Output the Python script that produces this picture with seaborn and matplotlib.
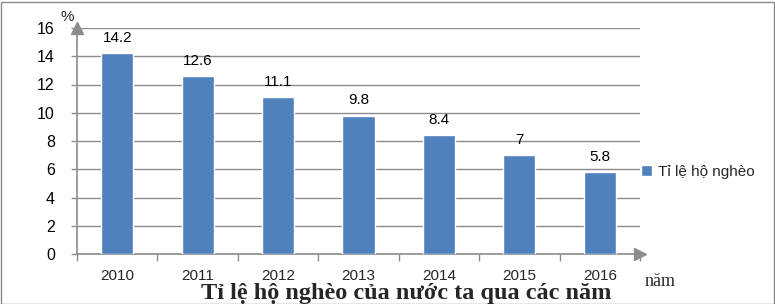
import matplotlib
matplotlib.use("Agg")
import matplotlib.pyplot as plt
import seaborn as sns
import pandas as pd
from matplotlib.patches import Rectangle
from matplotlib import font_manager

years = ["2010", "2011", "2012", "2013", "2014", "2015", "2016"]
values = [14.2, 12.6, 11.1, 9.8, 8.4, 7, 5.8]
value_labels = ["14.2", "12.6", "11.1", "9.8", "8.4", "7", "5.8"]
y_ticks = [0, 2, 4, 6, 8, 10, 12, 14, 16]
series_name = "Tỉ lệ hộ nghèo"
title = "Tỉ lệ hộ nghèo của nước ta qua các năm"

sns.set_theme(style="white")
plt.rcParams['font.family'] = ['Liberation Sans', 'DejaVu Sans']

names = {f.name for f in font_manager.fontManager.ttflist}
narrow = ['Liberation Sans Narrow'] if 'Liberation Sans Narrow' in names else ['Liberation Sans']

df = pd.DataFrame({"year": years, "value": values})

W, H = 775, 304
fig = plt.figure(figsize=(W / 100, H / 100), dpi=100)
ax = fig.add_axes([77 / W, 1 - 254 / H, (640 - 77) / W, (254 - 28) / H])

bar_color = "#4F81BD"
grid_color = "#8C8C8C"

sns.barplot(data=df, x="year", y="value", color=bar_color, width=0.4,
            saturation=1, ax=ax, label=series_name, zorder=3)
ax.set_ylim(0, 16)
ax.set_xlim(-0.5, len(years) - 0.5)
ax.set_yticks(y_ticks)
ax.set_yticklabels([str(t) for t in y_ticks], fontsize=11.5, color="#000000")
ax.yaxis.grid(True, color=grid_color, linewidth=1, zorder=0)
ax.xaxis.grid(False)
for s in ["top", "right"]:
    ax.spines[s].set_visible(False)
for s in ["left", "bottom"]:
    ax.spines[s].set_color(grid_color)
    ax.spines[s].set_linewidth(1.2)
ax.tick_params(axis="y", length=4, color=grid_color, width=1, pad=12, left=True)
ax.set_xticks(range(len(years)))
ax.set_xticklabels(years, fontsize=11, family=narrow)
ax.tick_params(axis="x", length=0, pad=11)
ax.set_xticks([i - 0.5 for i in range(len(years) + 1)], minor=True)
ax.tick_params(axis="x", which="minor", length=5, color=grid_color, width=1, bottom=True)
ax.set_xlabel("")
ax.set_ylabel("")

for i, (v, lab) in enumerate(zip(values, value_labels)):
    ax.annotate(lab, (i, v), xytext=(0, 6), textcoords="offset points",
                ha="center", va="bottom", fontsize=11, color="#000000")

ax.plot([-0.5], [16], marker="^", markersize=8, color=grid_color, clip_on=False, zorder=5)
ax.plot([len(years) - 0.5], [0], marker=">", markersize=8, color=grid_color, clip_on=False, zorder=5)

ax.legend(loc="center left", bbox_to_anchor=(635 / W, 1 - 172 / H), bbox_transform=fig.transFigure,
          frameon=False, fontsize=11, handlelength=0.7, handleheight=0.7, handletextpad=0.4,
          borderaxespad=0)

fig.text(67 / W, 1 - 17 / H, "%", ha="center", va="center", fontsize=11)
fig.text(660 / W, 1 - 286 / H, "năm", ha="center", va="baseline", fontsize=13,
         family=['Liberation Serif'])
fig.text(406 / W, 1 - 299 / H, title, ha="center", va="baseline", fontsize=17.5,
         fontweight="bold", family=['Liberation Serif'])

fig.add_artist(Rectangle((0.5 / W, 0.5 / H), (W - 2) / W, (H - 2) / H, transform=fig.transFigure,
                         fill=False, edgecolor="#888888", linewidth=1))

fig.savefig("out.png", dpi=100)
